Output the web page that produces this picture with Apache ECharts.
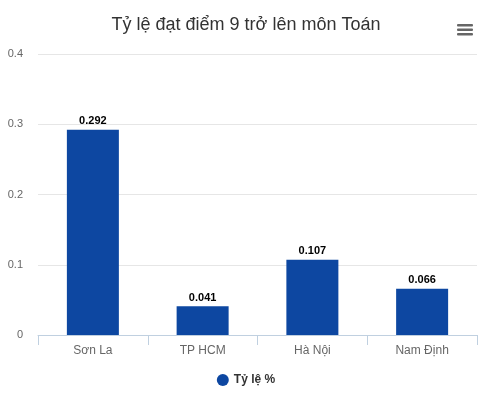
<!DOCTYPE html>
<html><head><meta charset="utf-8">
<script src="https://cdn.jsdelivr.net/npm/echarts@6/dist/echarts.min.js"></script>
<style>html,body{margin:0;padding:0;background:#fff}#c{width:492px;height:395px}</style>
</head><body><div id="c"></div>
<script>
const titleText = "Tỷ lệ đạt điểm 9 trở lên môn Toán";
const categories = ["Sơn La", "TP HCM", "Hà Nội", "Nam Định"];
const seriesName = "Tỷ lệ %";
const values = [0.292, 0.041, 0.107, 0.066];
const yTicks = [0, 0.1, 0.2, 0.3, 0.4];

const chart = echarts.init(document.getElementById('c'), null, {renderer: 'canvas'});
const font = "Arial, 'Liberation Sans', sans-serif";
chart.setOption({
  animation: false,
  backgroundColor: '#fff',
  textStyle: {fontFamily: font},
  title: {text: titleText, left: 'center', top: 11,
    textStyle: {fontSize: 18, fontWeight: 'normal', color: '#333', fontFamily: font}},
  legend: {data: [{name: seriesName, icon: 'circle'}], bottom: 4, left: 'center',
    itemWidth: 12, itemHeight: 12, itemGap: 7,
    textStyle: {fontSize: 12, fontWeight: 'bold', color: '#333', fontFamily: font}},
  grid: {left: 38, right: 15, top: 54, bottom: 60},
  xAxis: {type: 'category', data: categories,
    axisLine: {lineStyle: {color: '#c0d0e0'}},
    axisTick: {show: true, length: 10, lineStyle: {color: '#c0d0e0'}},
    axisLabel: {fontSize: 12, color: '#666', margin: 10, fontFamily: font}},
  yAxis: {type: 'value', min: yTicks[0], max: yTicks[yTicks.length-1], interval: 0.1,
    axisLine: {show: false}, axisTick: {show: false},
    splitLine: {lineStyle: {color: '#e6e6e6'}},
    axisLabel: {fontSize: 11, color: '#666', margin: 15, fontFamily: font}},
  series: [{name: seriesName, type: 'bar', data: values, barWidth: 52,
    itemStyle: {color: '#0d47a1'},
    label: {show: true, position: 'top', distance: 3, fontSize: 11, fontWeight: 'bold',
      color: '#000', fontFamily: font, formatter: p => p.value}}],
  graphic: [
    {type: 'rect', left: 457, top: 24, shape: {width: 16, height: 2.5, r: 1}, style: {fill: '#666'}},
    {type: 'rect', left: 457, top: 28.5, shape: {width: 16, height: 2.5, r: 1}, style: {fill: '#666'}},
    {type: 'rect', left: 457, top: 33, shape: {width: 16, height: 2.5, r: 1}, style: {fill: '#666'}}
  ]
});
</script></body></html>
